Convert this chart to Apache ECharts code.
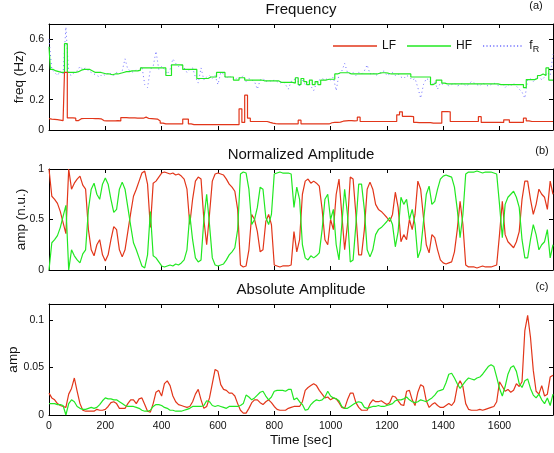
<!DOCTYPE html>
<html>
<head>
<meta charset="utf-8">
<script src="https://cdn.jsdelivr.net/npm/echarts@6.0.0/dist/echarts.min.js"></script>
<style>
  html, body { margin: 0; padding: 0; background: #fff; }
  #chart { width: 554px; height: 453px; }
</style>
</head>
<body>
<div id="chart"></div>
<script>
// sample times, one value every 10 s (0 .. 1790 s)
var times = [];
for (var i = 0; i < 180; i++) times.push(i * 10);

// (a) frequency [Hz]
var lfFreq = [
  0.075, 0.072, 0.070, 0.068, 0.065, 0.062, 0.380, 0.080, 0.080, 0.078,
  0.062, 0.075, 0.076, 0.076, 0.076, 0.076, 0.075, 0.075, 0.074, 0.062,
  0.060, 0.060, 0.060, 0.060, 0.062, 0.060, 0.082, 0.082, 0.080, 0.080,
  0.080, 0.078, 0.078, 0.078, 0.085, 0.076, 0.075, 0.074, 0.072, 0.060,
  0.045, 0.040, 0.040, 0.040, 0.040, 0.040, 0.040, 0.040, 0.072, 0.072,
  0.040, 0.036, 0.035, 0.035, 0.035, 0.035, 0.035, 0.035, 0.035, 0.035,
  0.035, 0.035, 0.035, 0.035, 0.035, 0.035, 0.035, 0.035, 0.140, 0.050,
  0.230, 0.078, 0.056, 0.056, 0.056, 0.056, 0.056, 0.056, 0.050, 0.045,
  0.042, 0.040, 0.040, 0.040, 0.040, 0.040, 0.040, 0.040, 0.040, 0.065,
  0.040, 0.040, 0.040, 0.040, 0.040, 0.040, 0.040, 0.040, 0.040, 0.040,
  0.048, 0.050, 0.050, 0.052, 0.058, 0.060, 0.062, 0.062, 0.060, 0.062,
  0.085, 0.056, 0.056, 0.056, 0.056, 0.056, 0.056, 0.056, 0.056, 0.056,
  0.056, 0.056, 0.056, 0.056, 0.100, 0.120, 0.090, 0.090, 0.090, 0.088,
  0.050, 0.049, 0.049, 0.049, 0.049, 0.049, 0.045, 0.045, 0.045, 0.045,
  0.122, 0.122, 0.120, 0.056, 0.056, 0.056, 0.056, 0.056, 0.056, 0.056,
  0.056, 0.056, 0.056, 0.088, 0.050, 0.050, 0.050, 0.050, 0.050, 0.050,
  0.050, 0.050, 0.067, 0.067, 0.050, 0.050, 0.050, 0.050, 0.050, 0.078,
  0.060, 0.056, 0.056, 0.056, 0.056, 0.056, 0.056, 0.056, 0.056, 0.056
];
var hfFreq = [
  0.55, 0.40, 0.39, 0.385, 0.38, 0.38, 0.57, 0.38, 0.38, 0.38,
  0.385, 0.395, 0.40, 0.40, 0.40, 0.39, 0.38, 0.38, 0.38, 0.375,
  0.37, 0.37, 0.365, 0.37, 0.37, 0.375, 0.38, 0.385, 0.385, 0.39,
  0.39, 0.39, 0.395, 0.41, 0.41, 0.41, 0.41, 0.41, 0.41, 0.41,
  0.41, 0.41, 0.36, 0.36, 0.43, 0.43, 0.43, 0.43, 0.40, 0.40,
  0.40, 0.40, 0.40, 0.34, 0.34, 0.34, 0.34, 0.35, 0.35, 0.35,
  0.38, 0.38, 0.38, 0.35, 0.35, 0.35, 0.33, 0.33, 0.345, 0.345,
  0.33, 0.33, 0.33, 0.33, 0.33, 0.33, 0.325, 0.325, 0.325, 0.325,
  0.325, 0.325, 0.315, 0.315, 0.315, 0.315, 0.315, 0.31, 0.345, 0.30,
  0.34, 0.32, 0.30, 0.33, 0.30, 0.32, 0.30, 0.33, 0.33, 0.335,
  0.335, 0.335, 0.37, 0.378, 0.378, 0.378, 0.378, 0.37, 0.37, 0.37,
  0.37, 0.37, 0.37, 0.37, 0.37, 0.37, 0.37, 0.375, 0.378, 0.378,
  0.375, 0.37, 0.37, 0.37, 0.37, 0.37, 0.37, 0.37, 0.37, 0.35,
  0.35, 0.35, 0.35, 0.35, 0.35, 0.35, 0.30, 0.31, 0.33, 0.33,
  0.31, 0.305, 0.305, 0.305, 0.305, 0.305, 0.305, 0.305, 0.305, 0.305,
  0.305, 0.305, 0.305, 0.305, 0.305, 0.305, 0.305, 0.305, 0.305, 0.305,
  0.30, 0.30, 0.30, 0.30, 0.30, 0.30, 0.30, 0.30, 0.30, 0.28,
  0.333, 0.333, 0.333, 0.34, 0.36, 0.37, 0.36, 0.41, 0.33, 0.33
];
var respFreq = [
  0.60, 0.40, 0.38, 0.36, 0.39, 0.37, 0.68, 0.37, 0.36, 0.38,
  0.39, 0.42, 0.40, 0.41, 0.39, 0.38, 0.37, 0.36, 0.35, 0.37,
  0.36, 0.38, 0.37, 0.36, 0.38, 0.37, 0.39, 0.47, 0.40, 0.39,
  0.38, 0.40, 0.39, 0.42, 0.30, 0.28, 0.40, 0.42, 0.52, 0.40,
  0.42, 0.40, 0.37, 0.40, 0.47, 0.44, 0.42, 0.43, 0.41, 0.38,
  0.40, 0.41, 0.35, 0.31, 0.41, 0.33, 0.35, 0.36, 0.34, 0.36,
  0.30, 0.38, 0.37, 0.34, 0.36, 0.34, 0.33, 0.35, 0.34, 0.36,
  0.32, 0.34, 0.33, 0.32, 0.27, 0.33, 0.34, 0.32, 0.33, 0.32,
  0.33, 0.32, 0.31, 0.32, 0.30, 0.27, 0.32, 0.33, 0.35, 0.29,
  0.33, 0.30, 0.32, 0.29, 0.26, 0.31, 0.33, 0.34, 0.33, 0.34,
  0.33, 0.35, 0.26, 0.37, 0.39, 0.44, 0.38, 0.37, 0.38, 0.36,
  0.38, 0.37, 0.39, 0.43, 0.37, 0.38, 0.36, 0.37, 0.38, 0.39,
  0.36, 0.37, 0.38, 0.36, 0.37, 0.35, 0.34, 0.36, 0.35, 0.33,
  0.34, 0.28, 0.21, 0.30, 0.34, 0.33, 0.30, 0.32, 0.27, 0.31,
  0.30, 0.31, 0.29, 0.30, 0.31, 0.29, 0.30, 0.31, 0.29, 0.30,
  0.32, 0.31, 0.30, 0.29, 0.31, 0.30, 0.29, 0.30, 0.31, 0.30,
  0.29, 0.31, 0.28, 0.30, 0.29, 0.31, 0.29, 0.27, 0.25, 0.21,
  0.33, 0.34, 0.32, 0.34, 0.36, 0.33, 0.35, 0.38, 0.36, 0.50
];

// (b) normalized amplitude [n.u.]
var lfNorm = [
  1.00, 0.73, 0.70, 0.66, 0.58, 0.47, 0.36, 1.00, 0.80, 0.86,
  0.90, 0.93, 0.84, 0.80, 0.40, 0.20, 0.14, 0.25, 0.30, 0.15,
  0.09, 0.15, 0.30, 0.43, 0.40, 0.20, 0.13, 0.20, 0.38, 0.56,
  0.73, 0.80, 0.88, 0.96, 0.98, 0.85, 0.42, 0.86, 0.88, 0.92,
  0.96, 0.97, 0.96, 0.95, 0.96, 0.94, 0.95, 0.93, 0.90, 0.80,
  0.45, 0.70, 0.88, 0.92, 0.90, 0.50, 0.25, 0.55, 0.88, 0.95,
  0.96, 0.95, 0.94, 0.90, 0.85, 0.82, 0.78, 0.60, 0.05, 0.03,
  0.04, 0.20, 0.55, 0.50, 0.38, 0.18, 0.20, 0.48, 0.55, 0.45,
  0.05, 0.04, 0.03, 0.04, 0.04, 0.04, 0.05, 0.38, 0.18, 0.30,
  0.75, 0.88, 0.90, 0.86, 0.88, 0.86, 0.83, 0.60, 0.30, 0.25,
  0.50, 0.40, 0.75, 0.90, 0.55, 0.20, 0.45, 0.92, 0.90, 0.55,
  0.15, 0.15, 0.40, 0.80, 0.87, 0.80, 0.65, 0.60, 0.58, 0.55,
  0.52, 0.48, 0.55, 0.77, 0.62, 0.28, 0.35, 0.30, 0.50, 0.40,
  0.55, 0.88, 0.80, 0.52, 0.25, 0.17, 0.35, 0.32, 0.20, 0.10,
  0.07, 0.06, 0.07, 0.08, 0.18, 0.40, 0.68, 0.45, 0.05, 0.03,
  0.03, 0.03, 0.02, 0.03, 0.04, 0.03, 0.03, 0.03, 0.04, 0.05,
  0.35, 0.68, 0.35, 0.28, 0.25, 0.22, 0.28, 0.38, 0.70, 0.88,
  0.88, 0.70, 0.55, 0.65, 0.80, 0.75, 0.72, 0.60, 0.88, 0.75
];
var hfNorm = [
  0.00, 0.27, 0.30, 0.34, 0.42, 0.53, 0.64, 0.00, 0.20, 0.14,
  0.10, 0.07, 0.16, 0.20, 0.60, 0.80, 0.86, 0.75, 0.70, 0.85,
  0.91, 0.85, 0.70, 0.57, 0.60, 0.80, 0.87, 0.80, 0.62, 0.44,
  0.27, 0.20, 0.12, 0.04, 0.02, 0.15, 0.58, 0.14, 0.12, 0.08,
  0.04, 0.03, 0.04, 0.05, 0.04, 0.06, 0.05, 0.07, 0.10, 0.20,
  0.55, 0.30, 0.12, 0.08, 0.10, 0.50, 0.75, 0.45, 0.12, 0.05,
  0.04, 0.05, 0.06, 0.10, 0.15, 0.18, 0.22, 0.40, 0.95, 0.97,
  0.96, 0.80, 0.45, 0.50, 0.62, 0.82, 0.80, 0.52, 0.45, 0.55,
  0.95, 0.96, 0.97, 0.96, 0.96, 0.96, 0.95, 0.62, 0.82, 0.70,
  0.25, 0.12, 0.10, 0.14, 0.12, 0.14, 0.17, 0.40, 0.70, 0.75,
  0.50, 0.60, 0.25, 0.10, 0.45, 0.80, 0.55, 0.08, 0.10, 0.45,
  0.85, 0.85, 0.60, 0.20, 0.13, 0.20, 0.35, 0.40, 0.42, 0.45,
  0.48, 0.52, 0.45, 0.23, 0.38, 0.72, 0.65, 0.70, 0.50, 0.60,
  0.45, 0.12, 0.20, 0.48, 0.75, 0.83, 0.65, 0.68, 0.80, 0.90,
  0.93, 0.94, 0.93, 0.92, 0.82, 0.60, 0.32, 0.55, 0.95, 0.97,
  0.97, 0.97, 0.98, 0.97, 0.96, 0.97, 0.97, 0.97, 0.96, 0.95,
  0.65, 0.32, 0.65, 0.72, 0.75, 0.78, 0.72, 0.62, 0.30, 0.12,
  0.12, 0.30, 0.45, 0.35, 0.20, 0.25, 0.28, 0.40, 0.12, 0.25
];

// (c) absolute amplitude
var lfAbs = [
  0.023, 0.018, 0.016, 0.012, 0.010, 0.009, 0.008, 0.022, 0.028, 0.039,
  0.025, 0.012, 0.005, 0.004, 0.004, 0.004, 0.004, 0.006, 0.005, 0.005,
  0.006, 0.009, 0.013, 0.014, 0.012, 0.007, 0.007, 0.007, 0.012, 0.016,
  0.016, 0.012, 0.017, 0.018, 0.011, 0.004, 0.003, 0.012, 0.024, 0.026,
  0.020, 0.033, 0.036, 0.031, 0.020, 0.014, 0.011, 0.010, 0.009, 0.008,
  0.009, 0.014, 0.022, 0.027, 0.016, 0.007, 0.009, 0.018, 0.033, 0.048,
  0.046, 0.032, 0.027, 0.026, 0.023, 0.023, 0.020, 0.012, 0.005, 0.002,
  0.002, 0.007, 0.013, 0.016, 0.016, 0.013, 0.011, 0.014, 0.016, 0.013,
  0.009, 0.006, 0.005, 0.005, 0.005, 0.007, 0.008, 0.009, 0.009, 0.009,
  0.014, 0.026, 0.029, 0.031, 0.033, 0.031, 0.026, 0.022, 0.018, 0.019,
  0.016, 0.018, 0.017, 0.013, 0.008, 0.007, 0.016, 0.023, 0.023, 0.013,
  0.008, 0.005, 0.005, 0.005, 0.012, 0.016, 0.014, 0.014, 0.015, 0.013,
  0.011, 0.013, 0.020, 0.019, 0.015, 0.011, 0.010, 0.025, 0.026, 0.016,
  0.010, 0.024, 0.032, 0.030, 0.015, 0.008, 0.011, 0.013, 0.010, 0.008,
  0.008, 0.010, 0.012, 0.010, 0.014, 0.030, 0.036, 0.030, 0.012, 0.006,
  0.005, 0.005, 0.005, 0.006, 0.005, 0.006, 0.007, 0.008, 0.009, 0.014,
  0.035, 0.030, 0.025, 0.027, 0.024, 0.026, 0.033, 0.030, 0.035, 0.089,
  0.105, 0.082, 0.047, 0.025, 0.022, 0.031, 0.020, 0.022, 0.040, 0.042
];
var hfAbs = [
  0.012, 0.012, 0.012, 0.011, 0.011, 0.010, 0.000, 0.012, 0.016, 0.014,
  0.009, 0.007, 0.006, 0.006, 0.007, 0.008, 0.007, 0.008, 0.011, 0.015,
  0.018, 0.017, 0.017, 0.016, 0.016, 0.014, 0.012, 0.010, 0.009, 0.009,
  0.009, 0.008, 0.007, 0.005, 0.004, 0.004, 0.005, 0.009, 0.011, 0.011,
  0.010, 0.008, 0.007, 0.005, 0.005, 0.004, 0.004, 0.004, 0.005, 0.006,
  0.007, 0.009, 0.009, 0.009, 0.009, 0.010, 0.015, 0.014, 0.010, 0.009,
  0.010, 0.009, 0.008, 0.007, 0.009, 0.009, 0.009, 0.009, 0.010, 0.012,
  0.021, 0.019, 0.016, 0.018, 0.021, 0.024, 0.025, 0.020, 0.016, 0.019,
  0.025, 0.026, 0.026, 0.026, 0.025, 0.027, 0.027, 0.016, 0.018, 0.014,
  0.011, 0.005, 0.006, 0.011, 0.014, 0.016, 0.015, 0.016, 0.019, 0.025,
  0.020, 0.018, 0.017, 0.015, 0.009, 0.007, 0.007, 0.009, 0.011, 0.013,
  0.014, 0.013, 0.008, 0.007, 0.008, 0.009, 0.009, 0.010, 0.009, 0.009,
  0.010, 0.011, 0.012, 0.015, 0.016, 0.016, 0.017, 0.019, 0.016, 0.014,
  0.013, 0.014, 0.016, 0.015, 0.014, 0.016, 0.018, 0.021, 0.025, 0.026,
  0.027, 0.034, 0.043, 0.044, 0.039, 0.033, 0.028, 0.032, 0.036, 0.039,
  0.038, 0.037, 0.039, 0.040, 0.043, 0.047, 0.051, 0.053, 0.051, 0.040,
  0.028, 0.020, 0.030, 0.043, 0.050, 0.052, 0.046, 0.033, 0.029, 0.036,
  0.038, 0.028, 0.021, 0.018, 0.022, 0.016, 0.012, 0.018, 0.010, 0.022
];

var xTicks = 200;
var FONT = '"Liberation Sans", Arial, sans-serif';
var RED = '#e2361a';
var GREEN = '#22e822';
var BLUE = '#6f6fff';

function pairs(vals) {
    return vals.map(function (v, i) { return [times[i], v]; });
}

var dom = document.getElementById('chart');
var myChart = echarts.init(dom, null, { renderer: 'canvas' });

var grids = [
    { left: 49, width: 504, top: 24, height: 106, containLabel: false, outerBoundsMode: 'none' },
    { left: 49, width: 504, top: 169, height: 101, containLabel: false, outerBoundsMode: 'none' },
    { left: 49, width: 504, top: 304, height: 111, containLabel: false, outerBoundsMode: 'none' }
];

var frameLine = { show: true, onZero: false, lineStyle: { color: '#000', width: 1 } };
var inTick = { show: true, inside: true, length: 4, lineStyle: { color: '#000', width: 1 } };
var labelStyle = { color: '#111', fontSize: 10.5, fontFamily: FONT };

var xAxis = [];
var yAxis = [];
grids.forEach(function (g, k) {
    xAxis.push({
        type: 'value', gridIndex: k, position: 'bottom', min: 0, max: 1790, interval: xTicks,
        axisLine: frameLine, axisTick: inTick, splitLine: { show: false },
        axisLabel: Object.assign({
            show: k === 2, margin: 6, showMaxLabel: false,
            formatter: function (v) { return String(v); }
        }, labelStyle),
        name: k === 2 ? 'Time [sec]' : '', nameLocation: 'middle', nameGap: 18,
        nameMoveOverlap: false,
        nameTextStyle: { color: '#111', fontSize: 13.5, fontFamily: FONT }
    });
    xAxis.push({
        type: 'value', gridIndex: k, position: 'top', min: 0, max: 1790, interval: xTicks,
        axisLine: frameLine, axisTick: inTick, splitLine: { show: false },
        axisLabel: { show: false }
    });
});

var yCfg = [
    { min: 0, max: 0.7, interval: 0.2, name: 'freq (Hz)', gap: 23 },
    { min: 0, max: 1, interval: 0.5, name: 'amp (n.u.)', gap: 21 },
    { min: 0, max: 0.117, interval: 0.05, name: 'amp', gap: 29 }
];
yCfg.forEach(function (c, k) {
    yAxis.push({
        type: 'value', gridIndex: k, position: 'left', min: c.min, max: c.max, interval: c.interval,
        axisLine: frameLine, axisTick: inTick, splitLine: { show: false },
        axisLabel: Object.assign({
            margin: 5, showMaxLabel: k === 1,
            formatter: function (v) { return String(+v.toFixed(3)); }
        }, labelStyle),
        name: c.name, nameLocation: 'middle', nameGap: c.gap, nameRotate: 90,
        nameMoveOverlap: false,
        nameTextStyle: { color: '#111', fontSize: 13.5, fontFamily: FONT }
    });
    yAxis.push({
        type: 'value', gridIndex: k, position: 'right', min: c.min, max: c.max, interval: c.interval,
        axisLine: frameLine, axisTick: inTick, splitLine: { show: false },
        axisLabel: { show: false }
    });
});

function line(name, vals, color, xi, yi, extra) {
    var s = {
        name: name, type: 'line', xAxisIndex: xi, yAxisIndex: yi,
        data: pairs(vals), symbol: 'none', smooth: false,
        lineStyle: { color: color, width: 1.2 },
        itemStyle: { color: color }
    };
    return Object.assign(s, extra || {});
}

// legend icons: a plain stroke for LF/HF, a row of dots for fR
var solidIcon = 'path://M0,0H44V1.4H0Z';
var dotIcon = 'path://' + (function () {
    var p = '';
    for (var x = 0; x < 40; x += 3.4) p += 'M' + x + ',0h1.2v1.4h-1.2Z';
    return p;
})();

var option = {
    animation: false,
    backgroundColor: '#fff',
    textStyle: { fontFamily: FONT },
    grid: grids,
    xAxis: xAxis,
    yAxis: yAxis,
    legend: {
        data: [
            { name: 'LF', icon: solidIcon },
            { name: 'HF', icon: solidIcon },
            { name: 'fR', icon: dotIcon }
        ],
        left: 333, top: 40, width: 221, padding: 0,
        itemWidth: 44, itemHeight: 1.4, itemGap: 11,
        textStyle: {
            color: '#111', fontSize: 12, fontFamily: FONT,
            rich: {
                f: { fontSize: 12, fontFamily: FONT, color: '#111' },
                r: { fontSize: 9, fontFamily: FONT, color: '#111', padding: [7, 0, 0, 0] }
            }
        },
        formatter: function (n) { return n === 'fR' ? '{f|f}{r|R}' : n; }
    },
    graphic: [
        { type: 'text', x: 301, y: 10, style: { text: 'Frequency', fill: '#111', font: '15px ' + FONT, align: 'center', verticalAlign: 'middle' } },
        { type: 'text', x: 301, y: 155, style: { text: 'Normalized Amplitude', fill: '#111', font: '15px ' + FONT, align: 'center', verticalAlign: 'middle' } },
        { type: 'text', x: 301, y: 290, style: { text: 'Absolute Amplitude', fill: '#111', font: '15px ' + FONT, align: 'center', verticalAlign: 'middle' } },
        { type: 'text', x: 536, y: 6, style: { text: '(a)', fill: '#111', font: '11px ' + FONT, align: 'center', verticalAlign: 'middle' } },
        { type: 'text', x: 542, y: 151, style: { text: '(b)', fill: '#111', font: '11px ' + FONT, align: 'center', verticalAlign: 'middle' } },
        { type: 'text', x: 542, y: 287, style: { text: '(c)', fill: '#111', font: '11px ' + FONT, align: 'center', verticalAlign: 'middle' } }
    ],
    series: [
        line('fR', respFreq, BLUE, 0, 0, { lineStyle: { color: BLUE, width: 1, type: [1, 3] } }),
        line('HF', hfFreq, GREEN, 0, 0, { step: 'middle' }),
        line('LF', lfFreq, RED, 0, 0, { step: 'middle' }),
        line('LF', lfNorm, RED, 2, 2),
        line('HF', hfNorm, GREEN, 2, 2),
        line('LF', lfAbs, RED, 4, 4),
        line('HF', hfAbs, GREEN, 4, 4)
    ]
};

if (option && typeof option === 'object') {
    myChart.setOption(option, true);
}
</script>
</body>
</html>
